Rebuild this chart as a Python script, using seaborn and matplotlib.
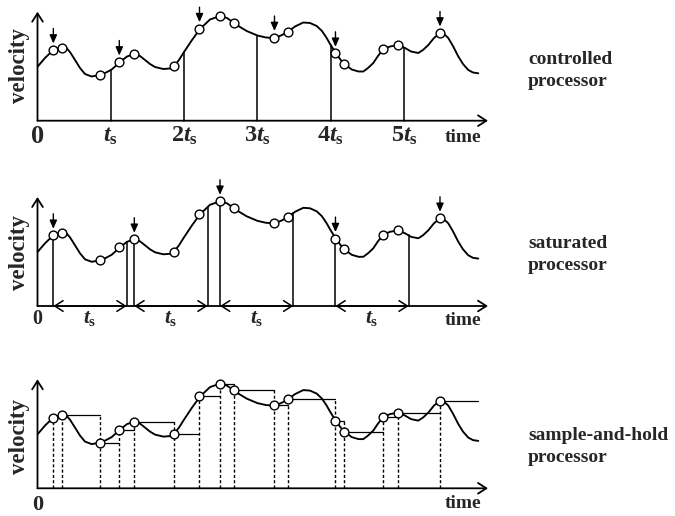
import numpy as np
import pandas as pd
import matplotlib
matplotlib.use("Agg")
import matplotlib.pyplot as plt
import seaborn as sns

# Velocity profile (time measured in sampling periods t_s)
curve_t = [0.003, 0.102, 0.216, 0.330, 0.389, 0.443, 0.512, 0.580, 0.648, 0.739,
           0.853, 0.935, 1.012, 1.126, 1.221, 1.321, 1.398, 1.467, 1.535, 1.603,
           1.716, 1.808, 1.866, 1.930, 1.999, 2.108, 2.217, 2.353, 2.490, 2.585,
           2.671, 2.763, 2.854, 2.999, 3.117, 3.240, 3.336, 3.422, 3.513, 3.626,
           3.718, 3.809, 3.881, 3.945, 3.991, 4.068, 4.127, 4.186, 4.287, 4.379,
           4.445, 4.509, 4.581, 4.645, 4.718, 4.809, 4.922, 5.014, 5.096, 5.195,
           5.259, 5.332, 5.409, 5.491, 5.546, 5.604, 5.668, 5.741, 5.805, 5.877,
           5.941, 6.014]
curve_v = [0.542, 0.627, 0.707, 0.732, 0.732, 0.687, 0.607, 0.527, 0.467, 0.442,
           0.457, 0.482, 0.512, 0.587, 0.642, 0.667, 0.647, 0.607, 0.567, 0.537,
           0.517, 0.522, 0.547, 0.607, 0.687, 0.807, 0.917, 1.012, 1.047, 1.027,
           0.982, 0.937, 0.897, 0.852, 0.832, 0.827, 0.857, 0.892, 0.942, 0.982,
           0.977, 0.947, 0.897, 0.827, 0.767, 0.677, 0.617, 0.567, 0.512, 0.492,
           0.492, 0.527, 0.577, 0.647, 0.714, 0.742, 0.757, 0.727, 0.692, 0.677,
           0.707, 0.757, 0.827, 0.877, 0.867, 0.827, 0.747, 0.642, 0.567, 0.507,
           0.482, 0.474]

# Sampling instants and the sampled velocities
sample_t = [0.216, 0.330, 0.853, 1.116, 1.321, 1.866, 2.210, 2.490,
            2.674, 3.233, 3.422, 4.065, 4.184, 4.718, 4.922, 5.491]
sample_v = [0.707, 0.730, 0.457, 0.587, 0.667, 0.544, 0.920, 1.047,
            0.982, 0.832, 0.889, 0.674, 0.567, 0.714, 0.757, 0.877]

period_ticks = [1, 2, 3, 4, 5]
period_labels = [r"$\mathit{t}_{\mathrm{s}}$", r"$\mathit{2t}_{\mathrm{s}}$",
                 r"$\mathit{3t}_{\mathrm{s}}$", r"$\mathit{4t}_{\mathrm{s}}$",
                 r"$\mathit{5t}_{\mathrm{s}}$"]
interval_label = r"$\mathit{t}_{\mathrm{s}}$"
panel_names = [("controlled", "processor"),
               ("saturated", "processor"),
               ("sample-and-hold", "processor")]

sns.set_theme(style="white")
plt.rcParams["font.family"] = ["Liberation Serif", "DejaVu Serif"]
plt.rcParams["font.weight"] = "bold"
plt.rcParams["mathtext.fontset"] = "custom"
plt.rcParams["mathtext.rm"] = "Liberation Serif:bold"
plt.rcParams["mathtext.it"] = "Liberation Serif:italic:bold"
plt.rcParams["mathtext.bf"] = "Liberation Serif:bold"

W, H = 675, 516
fig = plt.figure(figsize=(W / 100, H / 100), dpi=100)
fig.patch.set_facecolor("white")

X0, TS = 37.5, 73.3          # pixel position of t=0 and pixels per period
VS = 100.0                   # pixels per velocity unit
XLIM = (-0.4, 6.6)
YLIM = (-0.27, 1.18)
baselines = [120.7, 306.0, 488.3]
name_baselines = [64.0, 248.5, 440.0]

t_end = curve_t[-1]
curve_df = pd.DataFrame({"time": curve_t, "velocity": curve_v})
samp_df = pd.DataFrame({"time": sample_t, "velocity": sample_v})
K = "black"


def v_at(t):
    return float(np.interp(t, curve_t, curve_v))


def make_axes(base):
    left_px = X0 + XLIM[0] * TS
    top_px = base - YLIM[1] * VS
    w_px = (XLIM[1] - XLIM[0]) * TS
    h_px = (YLIM[1] - YLIM[0]) * VS
    ax = fig.add_axes([left_px / W, 1 - (top_px + h_px) / H, w_px / W, h_px / H])
    ax.set_xlim(*XLIM)
    ax.set_ylim(*YLIM)
    ax.set_axis_off()
    return ax


def draw_axes(ax):
    ax.annotate("", xy=(0, 1.09), xytext=(0, 0),
                arrowprops=dict(arrowstyle="->,head_length=0.5,head_width=0.32",
                                lw=1.3, color=K, shrinkA=0, shrinkB=0))
    ax.annotate("", xy=(6.146, 0), xytext=(0, 0),
                arrowprops=dict(arrowstyle="->,head_length=0.5,head_width=0.32",
                                lw=1.3, color=K, shrinkA=0, shrinkB=0))


def draw_curve(ax):
    sns.lineplot(data=curve_df, x="time", y="velocity", ax=ax, color=K, lw=1.35,
                 sort=False, estimator=None)


def draw_samples(ax):
    sns.scatterplot(data=samp_df, x="time", y="velocity", ax=ax, s=40,
                    facecolor="white", edgecolor=K, linewidth=1.0, zorder=5)


def mark_arrow(ax, t, v):
    ax.annotate("", xy=(t, v + 0.065), xytext=(t, v + 0.215),
                arrowprops=dict(arrowstyle="-|>,head_length=0.5,head_width=0.22",
                                lw=1.0, color=K, shrinkA=0, shrinkB=0,
                                mutation_scale=10))


def side_text(ax, zero_size, zero_dy, time_dy, vel_v, name_base, names):
    ax.text(0, zero_dy, "0", ha="center", va="baseline", fontsize=zero_size,
            fontweight="bold")
    ax.text(6.05, time_dy, "time", ha="right", va="baseline", fontsize=14,
            fontweight="bold")
    ax.text(-0.25, vel_v, "velocity", ha="center", va="center", rotation=90,
            fontsize=16.5, fontweight="bold")
    fig.text(528 / W, 1 - name_base / H, names[0], ha="left", va="baseline",
             fontsize=14, fontweight="bold")
    fig.text(528 / W, 1 - (name_base + 21.5) / H, names[1], ha="left",
             va="baseline", fontsize=14, fontweight="bold")


# ---- controlled processor ----
ax1 = make_axes(baselines[0])
draw_axes(ax1)
draw_curve(ax1)
for k in period_ticks:
    ax1.plot([k, k], [0, v_at(k)], color=K, lw=1.1)
draw_samples(ax1)
for k in range(0, 6):
    idx = next(i for i, t in enumerate(sample_t) if t >= k)
    mark_arrow(ax1, sample_t[idx], sample_v[idx])
for k, lab in zip(period_ticks, period_labels):
    ax1.text(k, -0.21, lab, ha="center", va="baseline", fontsize=17.5)
side_text(ax1, 19, -0.22, -0.21, 0.55, name_baselines[0], panel_names[0])

# ---- saturated processor ----
ax2 = make_axes(baselines[1])
draw_axes(ax2)
draw_curve(ax2)
starts = []
cur = 0
while True:
    cand = [i for i, t in enumerate(sample_t) if t >= cur]
    if not cand:
        break
    starts.append(cand[0])
    cur = sample_t[cand[0]] + 1.0
for i in starts:
    t0 = sample_t[i]
    mark_arrow(ax2, t0, sample_v[i])
    t1 = t0 + 1.0
    if t1 > t_end:
        continue
    ax2.plot([t0, t0], [0, sample_v[i]], color=K, lw=1.1)
    ax2.plot([t1, t1], [0, v_at(t1)], color=K, lw=1.1)
    ax2.annotate("", xy=(t1, 0), xytext=(t0, 0),
                 arrowprops=dict(arrowstyle="<->,head_length=0.5,head_width=0.32",
                                 lw=1.1, color=K, shrinkA=0, shrinkB=0))
    ax2.text((t0 + t1) / 2, -0.173, interval_label, ha="center", va="baseline",
             fontsize=15.5)
draw_samples(ax2)
side_text(ax2, 14.5, -0.18, -0.19, 0.54, name_baselines[1], panel_names[1])

# ---- sample-and-hold processor ----
ax3 = make_axes(baselines[2])
draw_axes(ax3)
draw_curve(ax3)
hold_end = sample_t[1:] + [t_end]
for i, (t0, t1, v) in enumerate(zip(sample_t, hold_end, sample_v)):
    ax3.plot([t0, t1], [v, v], color=K, lw=0.9)
    top = v if i == 0 else max(v, sample_v[i - 1])
    ax3.plot([t0, t0], [0, top], color=K, lw=1.0, ls=(0, (2.2, 1.6)))
draw_samples(ax3)
side_text(ax3, 16, -0.217, -0.20, 0.52, name_baselines[2], panel_names[2])

fig.savefig("out.png", dpi=100, facecolor="white")
